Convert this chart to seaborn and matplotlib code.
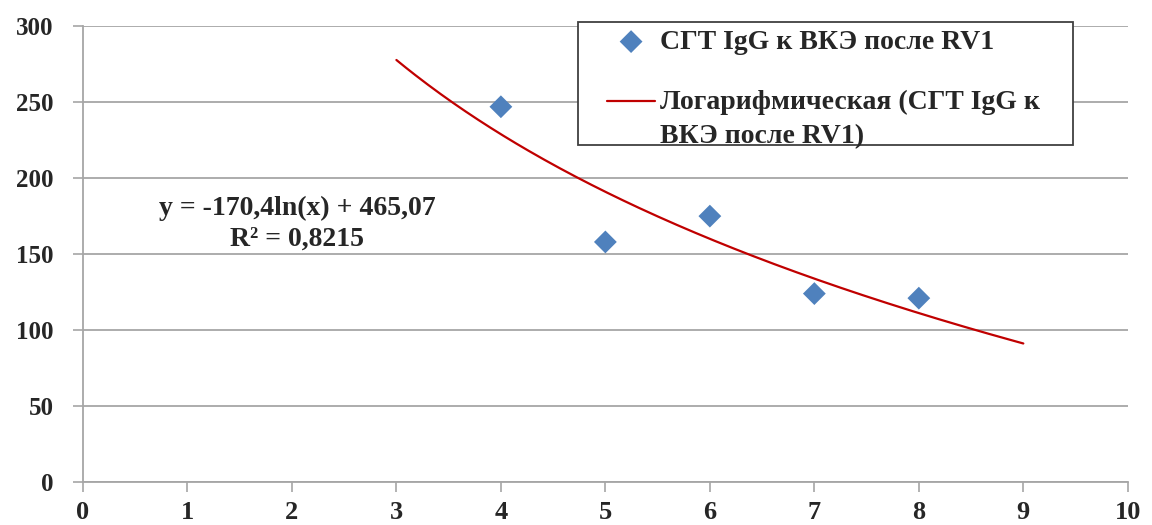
import numpy as np
import matplotlib
matplotlib.use("Agg")
import matplotlib.pyplot as plt
import seaborn as sns
from matplotlib.legend_handler import HandlerLine2D
from matplotlib.patches import Rectangle

# Данные: СГТ IgG к ВКЭ после RV1
x_vals = [4, 5, 6, 7, 8]
y_vals = [247, 158, 175, 124, 121]
point_label = "СГТ IgG к ВКЭ после RV1"
trend_label = "Логарифмическая (СГТ IgG к\nВКЭ после RV1)"
eq_text = "y = -170,4ln(x) + 465,07\nR² = 0,8215"
x_ticks = list(range(0, 11))
y_ticks = list(range(0, 301, 50))


class RaisedLineHandler(HandlerLine2D):
    """линия легенды на уровне первой строки подписи"""
    def __init__(self, shift, **kw):
        super().__init__(**kw)
        self.shift = shift

    def create_artists(self, legend, orig_handle, xdescent, ydescent,
                       width, height, fontsize, trans):
        return super().create_artists(legend, orig_handle, xdescent,
                                      ydescent - 2 * self.shift, width, height,
                                      fontsize, trans)


sns.set_style("white")
plt.rcParams['font.family'] = ['Liberation Serif', 'DejaVu Serif']
plt.rcParams['font.weight'] = 'bold'

fig = plt.figure(figsize=(11.52, 5.25), dpi=100)
ax = fig.add_axes([0.072, 0.082, 0.907, 0.868])

# логарифмический тренд (подгонка по точкам, продлён от 3 до 9)
b, a = np.polyfit(np.log(x_vals), y_vals, 1)
x_fit = np.linspace(3, 9, 200)
y_fit = a + b * np.log(x_fit)

ax.yaxis.grid(True, color='#a6a6a6', linewidth=1.3)
ax.set_axisbelow(True)

sns.lineplot(x=x_fit, y=y_fit, ax=ax, color='#c00000', linewidth=1.6,
             label=trend_label, zorder=2)
sns.scatterplot(x=x_vals, y=y_vals, ax=ax, marker='D', s=135, color='#4f81bd',
                edgecolor='none', label=point_label, zorder=3)

ax.text(2.05, 170, eq_text, ha='center', va='center', fontsize=20,
        fontweight='bold', linespacing=1.3, multialignment='center')

ax.set_xlim(0, 10)
ax.set_ylim(0, 300)
ax.set_xticks(x_ticks)
ax.set_yticks(y_ticks)
ax.tick_params(axis='y', length=7, width=1.2, color='#a6a6a6', pad=14, labelsize=18, left=True)
ax.tick_params(axis='x', length=7, width=1.2, color='#a6a6a6', pad=7, labelsize=19, bottom=True)
for lab in ax.get_xticklabels() + ax.get_yticklabels():
    lab.set_fontweight('bold')

for side in ['top', 'right']:
    ax.spines[side].set_visible(False)
for side in ['left', 'bottom']:
    ax.spines[side].set_color('#a6a6a6')
    ax.spines[side].set_linewidth(1.3)

handles, labels = ax.get_legend_handles_labels()
line_h = handles[0]
leg = ax.legend(handles[::-1], labels[::-1], loc='upper left',
                bbox_to_anchor=(0.502, 0.993), frameon=False,
                prop={'size': 20, 'weight': 'bold'}, handlelength=1.7,
                handletextpad=0.2, borderpad=0, labelspacing=1.25,
                borderaxespad=0,
                handler_map={line_h: RaisedLineHandler(13)})
for t in leg.get_texts():
    t.set_linespacing(1.5)
leg.set_zorder(5)

# рамка легенды
ax.add_patch(Rectangle((0.4737, 0.739), 0.4737, 0.2697, transform=ax.transAxes,
                       fill=True, facecolor='white', edgecolor='#404040',
                       linewidth=1.3, clip_on=False, zorder=4))

fig.savefig('out.png', dpi=100)
